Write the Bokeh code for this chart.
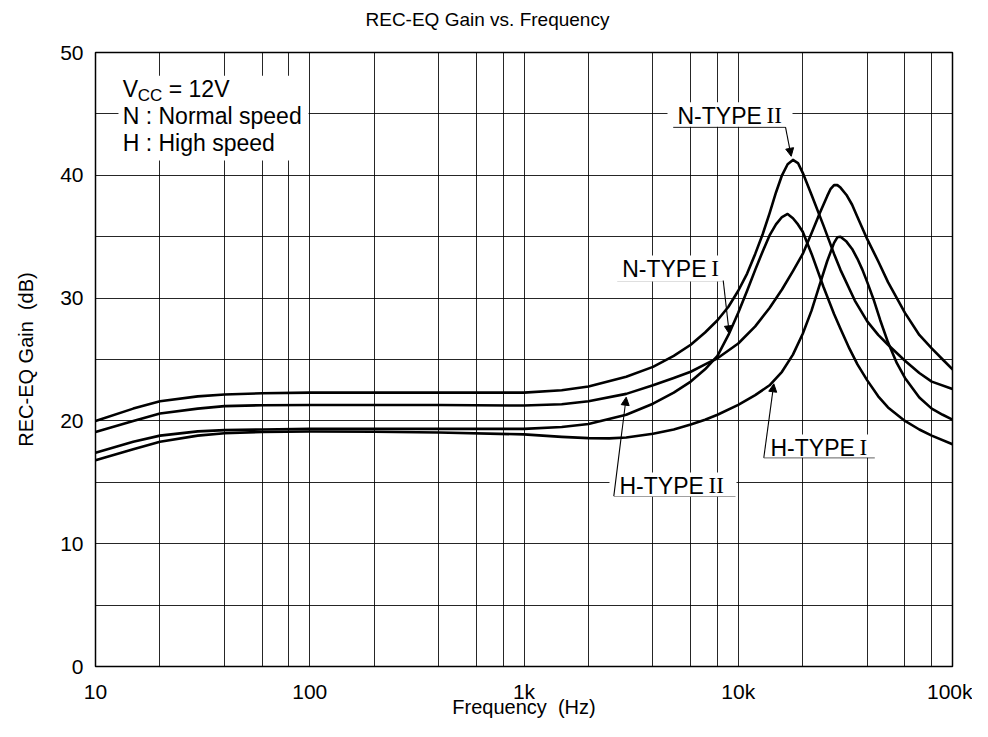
from bokeh.plotting import figure
from bokeh.models import Range1d, FixedTicker, Label, Arrow, NormalHead, BoxAnnotation
from bokeh.embed import file_html
from bokeh.resources import INLINE

# ---------------- data ----------------
freq_n2 = [10, 15, 20, 30, 40, 60, 100, 200, 400, 1000, 1500, 2000, 3000, 4000, 5000, 6000, 7000, 8000,
           9000, 10000, 11000, 12000, 13000, 14000, 15000, 16000, 17000, 18000, 19000, 20000, 22000,
           25000, 28000, 30000, 35000, 40000, 45000, 50000, 60000, 70000, 80000, 100000]
gain_n2 = [20.0, 21.0, 21.6, 22.0, 22.15, 22.25, 22.3, 22.3, 22.3, 22.3, 22.5, 22.8, 23.6, 24.4, 25.3, 26.2,
           27.2, 28.2, 29.3, 30.6, 32.0, 33.6, 35.2, 36.9, 38.6, 40.0, 40.9, 41.25, 41.0, 40.2, 38.4,
           35.9, 33.6, 32.3, 29.8, 28.1, 27.0, 26.2, 24.9, 23.9, 23.2, 22.6]

freq_n1 = [10, 15, 20, 30, 40, 60, 100, 400, 1000, 1500, 2000, 3000, 4000, 5000, 6000, 7000, 8000, 9000,
           10000, 11000, 12000, 13000, 14000, 15000, 16000, 17000, 18000, 19000, 20000, 22000, 25000,
           28000, 30000, 33000, 36000, 40000, 45000, 50000, 60000, 70000, 80000, 100000]
gain_n1 = [17.4, 18.3, 18.8, 19.15, 19.25, 19.3, 19.35, 19.35, 19.35, 19.5, 19.75, 20.5, 21.4, 22.3, 23.2,
           24.2, 25.3, 27.0, 28.8, 30.6, 32.3, 33.8, 35.1, 36.0, 36.6, 36.85, 36.5, 36.0, 35.4, 33.6, 30.9,
           28.7, 27.5, 25.9, 24.6, 23.3, 22.0, 21.1, 20.0, 19.3, 18.8, 18.1]

freq_h2 = [10, 15, 20, 30, 40, 60, 100, 400, 1000, 1500, 2000, 3000, 4000, 5000, 6000, 7000, 8000, 10000,
           12000, 14000, 16000, 18000, 20000, 22000, 24000, 26000, 27000, 28000, 29000, 30000, 32000,
           34000, 36000, 40000, 45000, 50000, 60000, 70000, 80000, 90000, 100000]
gain_h2 = [19.1, 20.0, 20.6, 21.0, 21.2, 21.28, 21.3, 21.3, 21.25, 21.35, 21.6, 22.2, 22.9, 23.5, 24.0, 24.6,
           25.1, 26.3, 27.7, 29.2, 30.7, 32.2, 33.6, 35.3, 36.9, 38.3, 38.9, 39.2, 39.2, 39.0, 38.4,
           37.6, 36.6, 34.8, 33.0, 31.3, 28.8, 27.0, 25.9, 25.0, 24.2]

freq_h1 = [10, 15, 20, 30, 40, 60, 100, 200, 400, 1000, 1500, 2000, 2500, 3000, 4000, 5000, 6000, 7000,
           8000, 10000, 12000, 14000, 16000, 18000, 20000, 22000, 24000, 26000, 28000, 29000, 30000, 32000,
           34000, 36000, 38000, 40000, 43000, 46000, 50000, 55000, 60000, 70000, 80000, 90000, 100000]
gain_h1 = [16.8, 17.7, 18.3, 18.8, 19.0, 19.1, 19.14, 19.12, 19.05, 18.9, 18.7, 18.6, 18.58, 18.65, 18.95,
           19.3, 19.7, 20.1, 20.5, 21.3, 22.1, 22.9, 24.0, 25.4, 27.1, 29.0, 31.1, 33.0, 34.5, 34.95, 35.0,
           34.6, 34.0, 33.2, 32.3, 31.3, 29.8, 28.2, 26.4, 24.7, 23.5, 21.9, 21.0, 20.5, 20.1]

x_tick_values = [10, 100, 1000, 10000, 100000]
x_tick_labels = ["10", "100", "1k", "10k", "100k"]
y_tick_values = [0, 10, 20, 30, 40, 50]
x_grid_values = [m * d for d in (10, 100, 1000, 10000) for m in (2, 4, 6, 8, 10)][:-1]
y_grid_values = [5, 10, 15, 20, 25, 30, 35, 40, 45]

FONT = "Liberation Sans"
SERIF = "Liberation Serif"

p = figure(width=972, height=721, x_axis_type="log",
           x_range=Range1d(10, 100000), y_range=Range1d(0, 50),
           output_backend="svg", toolbar_location=None,
           min_border_left=95, min_border_right=20, min_border_top=52, min_border_bottom=55)

# a blank second line lifts the title towards the top edge, as in the reference
p.title.text = "REC-EQ Gain vs. Frequency\n\u00a0"
p.title.align = "left"
p.title.offset = 270
p.title.text_font = FONT
p.title.text_font_size = "19px"
p.title.text_font_style = "normal"
p.title.text_color = "black"
p.title.vertical_align = "top"
p.title.standoff = 0

p.outline_line_color = "black"
p.outline_line_width = 1.5
p.background_fill_color = "white"
p.border_fill_color = "white"

p.xaxis.ticker = FixedTicker(ticks=x_tick_values)
p.xaxis.major_label_overrides = dict(zip(x_tick_values, x_tick_labels))
p.yaxis.ticker = FixedTicker(ticks=y_tick_values)
for ax in (p.xaxis, p.yaxis):
    ax.major_tick_line_color = None
    ax.minor_tick_line_color = None
    ax.axis_line_color = None
    ax.major_label_text_font = FONT
    ax.major_label_text_font_size = "21px"
    ax.major_label_text_color = "black"
    ax.axis_label_text_font = FONT
    ax.axis_label_text_font_size = "20px"
    ax.axis_label_text_font_style = "normal"
    ax.axis_label_text_color = "black"
p.xaxis.major_label_standoff = 7
p.yaxis.major_label_standoff = 6
p.xaxis.axis_label = "Frequency\u00a0 (Hz)"
p.xaxis.axis_label_standoff = -10
p.yaxis.axis_label = "REC-EQ Gain\u00a0 (dB)"
p.yaxis.axis_label_standoff = 20

p.xgrid.ticker = FixedTicker(ticks=x_grid_values)
p.ygrid.ticker = FixedTicker(ticks=y_grid_values)
for g in (p.xgrid, p.ygrid):
    g.grid_line_color = "black"
    g.grid_line_alpha = 0.85
    g.grid_line_width = 1

for fx, gy in ((freq_n2, gain_n2), (freq_n1, gain_n1), (freq_h2, gain_h2), (freq_h1, gain_h1)):
    p.line(fx, gy, line_color="black", line_width=2.6, line_join="round", line_cap="round")

# ---------------- annotations ----------------
boxes = [
    (12.8, 98.7, 41.2, 48.1),        # condition text
    (4675, 17918, 43.95, 45.95),     # N-TYPE II
    (2588, 8908, 31.35, 33.47),      # N-TYPE I
    (2506, 9813, 13.84, 15.80),      # H-TYPE II
    (13120, 43710, 17.02, 18.89),    # H-TYPE I
]
for l, r, b, t in boxes:
    p.add_layout(BoxAnnotation(left=l, right=r, bottom=b, top=t, fill_color="white",
                               fill_alpha=1.0, line_color=None, level="overlay"))

def txt(x, y, s, size="23px", font=FONT, xo=0, yo=0):
    p.add_layout(Label(x=x, y=y, text=s, text_font=font, text_font_size=size,
                       text_color="black", text_align="left", text_baseline="middle",
                       x_offset=xo, y_offset=yo, level="overlay"))

# condition text
txt(13.4, 47.04, "V")
txt(13.4, 47.04, "CC", size="17px", xo=15, yo=-7)
txt(13.4, 47.04, "= 12V", xo=46)
txt(13.4, 44.83, "N : Normal speed")
txt(13.4, 42.63, "H : High speed")

# curve labels: (text x, text y, main, roman, underline x0, x1, y, arrow tip x, y, leader side)
curve_labels = [
    (5206, 44.84, "N-TYPE", "II", 4971, 16615, 43.92, 17667, 41.55, "right"),
    (2873, 32.38, "N-TYPE", "I", 2723, 8508, 31.43, 9083, 27.09, "right"),
    (2791, 14.71, "H-TYPE", "II", 2625, 9710, 13.87, 2999, 21.93, "left"),
    (14143, 17.83, "H-TYPE", "I", 13160, 43380, 17.0, 14654, 23.02, "left"),
]
for tx, ty, main, roman, ux0, ux1, uy, ax_, ay, side in curve_labels:
    txt(tx, ty, main)
    txt(tx, ty, roman, font=SERIF, xo=89)
    p.segment(x0=[ux0], y0=[uy], x1=[ux1], y1=[uy], line_color="black", line_width=1.2)
    sx = ux1 if side == "right" else ux0
    p.add_layout(Arrow(x_start=sx, y_start=uy, x_end=ax_, y_end=ay, line_color="black", line_width=1.1,
                       end=NormalHead(size=8, fill_color="black", line_color="black", line_width=1),
                       level="overlay"))

open("out.html", "w").write(file_html(p, INLINE))
